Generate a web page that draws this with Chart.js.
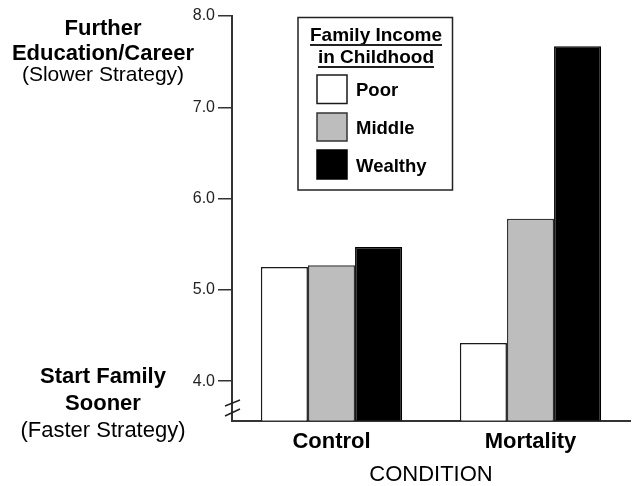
<!DOCTYPE html>
<html><head><meta charset="utf-8">
<style>html,body{margin:0;padding:0;background:#fff}#wrap{width:636px;height:486px}</style>
<script src="https://cdn.jsdelivr.net/npm/chart.js@4"></script>
</head><body><div id="wrap"><canvas id="c" width="636" height="486"></canvas></div>
<script>
const categories = ['Control', 'Mortality'];
const seriesNames = ['Poor', 'Middle', 'Wealthy'];
const poorValues = [5.25, 4.42];
const middleValues = [5.27, 5.78];
const wealthyValues = [5.47, 7.67];
const yTickValues = [4, 5, 6, 7, 8];
const yMin = 3.57, yMax = 8.0;
const legendTitle = ['Family Income', 'in Childhood'];
const topLabel = ['Further', 'Education/Career', '(Slower Strategy)'];
const bottomLabel = ['Start Family', 'Sooner', '(Faster Strategy)'];
const xAxisTitle = 'CONDITION';

const FAM = "'Liberation Sans', Arial, Helvetica, sans-serif";

const decor = {
  id: 'decor',
  afterDraw(chart) {
    const ctx = chart.ctx;
    const ca = chart.chartArea;
    ctx.save();
    // side labels
    ctx.fillStyle = '#000';
    ctx.textAlign = 'center';
    ctx.textBaseline = 'alphabetic';
    const cx = 103;
    ctx.font = 'bold 22px ' + FAM;
    ctx.fillText(topLabel[0], cx, 35);
    ctx.fillText(topLabel[1], cx, 59.5);
    ctx.font = '21px ' + FAM;
    ctx.fillText(topLabel[2], cx, 80.5);
    ctx.font = 'bold 22px ' + FAM;
    ctx.fillText(bottomLabel[0], cx, 382.5);
    ctx.fillText(bottomLabel[1], cx, 410);
    ctx.font = '22px ' + FAM;
    ctx.fillText(bottomLabel[2], cx, 437);

    // axis break marks
    ctx.strokeStyle = '#222';
    ctx.lineWidth = 1.5;
    const ax = ca.left;
    [[406, 400], [416, 409]].forEach(([y1, y2]) => {
      ctx.beginPath();
      ctx.moveTo(ax - 7, y1);
      ctx.lineTo(ax + 8, y2);
      ctx.stroke();
    });

    // legend box
    ctx.strokeStyle = '#222';
    ctx.lineWidth = 1.5;
    ctx.strokeRect(298, 17.5, 154.5, 172.5);
    ctx.font = 'bold 19px ' + FAM;
    ctx.textAlign = 'center';
    const lx = 376;
    const tb = [40.5, 63];
    const ul = [45, 67];
    legendTitle.forEach((t, i) => {
      ctx.fillText(t, lx, tb[i]);
      const w = ctx.measureText(t).width;
      ctx.beginPath();
      ctx.lineWidth = 1.8;
      ctx.moveTo(lx - w / 2, ul[i]);
      ctx.lineTo(lx + w / 2, ul[i]);
      ctx.stroke();
    });
    const sw = [[75, 103.5], [113, 141], [150, 179]];
    const lb = [96, 133.5, 171.5];
    ctx.textAlign = 'left';
    chart.data.datasets.forEach((ds, i) => {
      const [y1, y2] = sw[i];
      ctx.fillStyle = ds.backgroundColor;
      ctx.fillRect(317, y1, 30, y2 - y1);
      ctx.strokeStyle = ds.borderColor;
      ctx.lineWidth = 1.5;
      ctx.strokeRect(317, y1, 30, y2 - y1);
      ctx.fillStyle = '#000';
      ctx.font = 'bold 18.5px ' + FAM;
      ctx.fillText(ds.label, 356, lb[i]);
    });
    ctx.restore();
  }
};

new Chart(document.getElementById('c'), {
  type: 'bar',
  data: {
    labels: categories,
    datasets: [
      { label: seriesNames[0], data: poorValues, backgroundColor: '#ffffff', borderColor: '#1a1a1a', borderWidth: 1.5 },
      { label: seriesNames[1], data: middleValues, backgroundColor: '#bdbdbd', borderColor: '#333333', borderWidth: 1.5 },
      { label: seriesNames[2], data: wealthyValues, backgroundColor: '#000000', borderColor: '#000000', borderWidth: 1.5 }
    ]
  },
  options: {
    responsive: false,
    animation: false,
    devicePixelRatio: 1,
    categoryPercentage: 0.71,
    barPercentage: 1.0,
    layout: { padding: { top: 16, right: 6, left: 0, bottom: 0 } },
    plugins: { legend: { display: false }, tooltip: { enabled: false } },
    scales: {
      x: {
        offset: true,
        afterFit: (s) => { s.height = 65.5; },
        grid: { display: false, drawTicks: false },
        border: { display: true, color: '#333', width: 2 },
        ticks: { font: { family: FAM, size: 22, weight: 'bold' }, color: '#000', padding: 8 },
        title: { display: true, text: xAxisTitle, font: { family: FAM, size: 22, lineHeight: 1 }, color: '#000', padding: { top: 9, bottom: 0 } }
      },
      y: {
        min: yMin, max: yMax,
        afterBuildTicks: (s) => { s.ticks = yTickValues.map(v => ({ value: v })); },
        afterFit: (s) => { s.width = 232; },
        grid: { drawOnChartArea: false, tickLength: 14, color: '#333', lineWidth: 1.5 },
        border: { color: '#333', width: 2 },
        ticks: { font: { family: FAM, size: 16 }, color: '#222', padding: 3, callback: (v) => Number(v).toFixed(1) }
      }
    }
  },
  plugins: [decor]
});
</script>
</body></html>
